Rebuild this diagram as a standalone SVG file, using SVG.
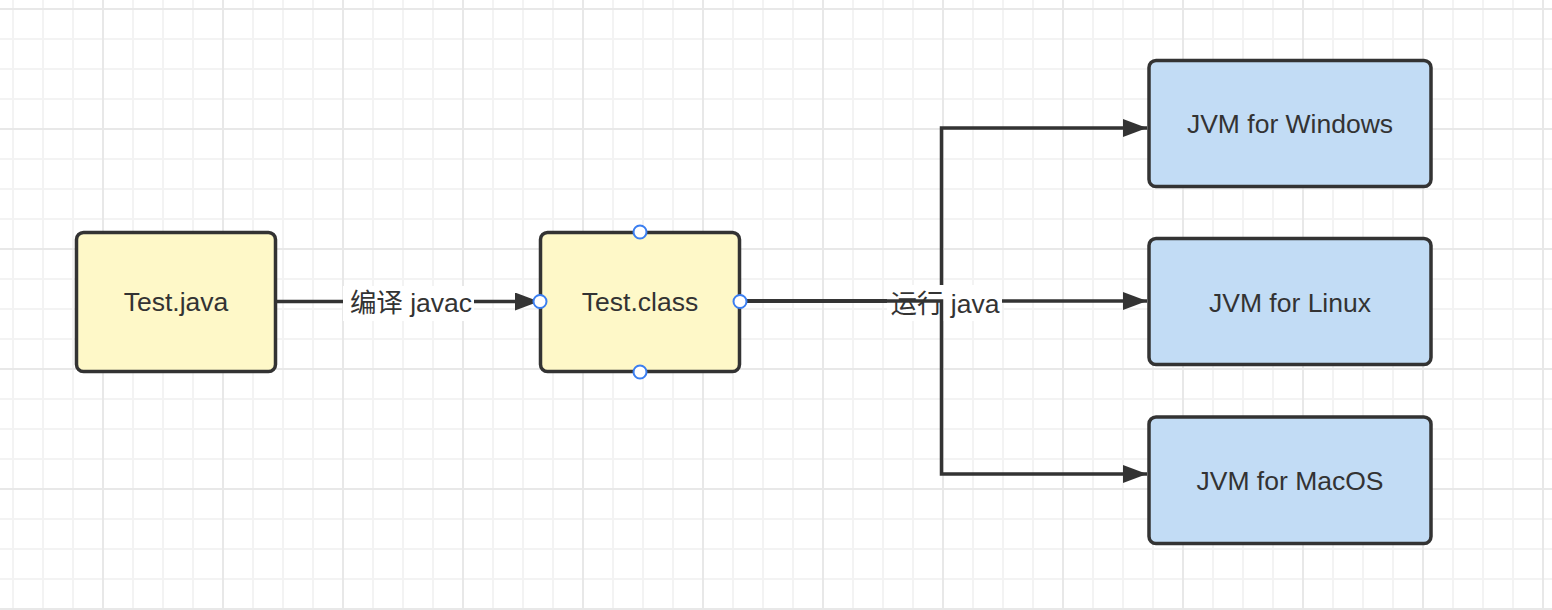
<svg xmlns="http://www.w3.org/2000/svg" width="1552" height="610" viewBox="0 0 1552 610">
<style>
.node rect{stroke:#333333;stroke-width:3.5}
.yellow rect{fill:#fef8c8}
.blue rect{fill:#c2dcf5}
text{font-family:"Liberation Sans","Noto Sans CJK SC",sans-serif;font-size:26.5px;fill:#333333;text-anchor:middle}
.edge{fill:none;stroke:#333333;stroke-width:3.5;marker-end:url(#arrow)}
.lbl-bg{fill:#ffffff}
.handle{fill:#ffffff;stroke:#3a7ef0;stroke-width:2}
</style>
<defs>
<pattern id="minor" patternUnits="userSpaceOnUse" x="-2" y="-6" width="30" height="30">
<path d="M15 0V30M0 15H30" stroke="#f3f3f3" stroke-width="2" fill="none"/>
</pattern>
<pattern id="major" patternUnits="userSpaceOnUse" x="43" y="69" width="120" height="120">
<path d="M60 0V120M0 60H120" stroke="#e8e8e8" stroke-width="2" fill="none"/>
</pattern>
<marker id="arrow" markerUnits="userSpaceOnUse" markerWidth="24" markerHeight="18" refX="24" refY="9" orient="auto">
<path d="M0 0L24 9L0 18z" fill="#333333"/>
</marker>
</defs>
<rect width="1552" height="610" fill="#ffffff"/>
<rect width="1552" height="610" fill="url(#minor)"/>
<rect width="1552" height="610" fill="url(#major)"/>

<g id="connectors">
<path class="edge" d="M276.5 301.5H539"/>
<rect class="lbl-bg" x="343" y="286" width="131" height="35"/>
<text x="411" y="312">编译 javac</text>
<path class="edge" d="M740 301H941.5V128H1147"/>
<path class="edge" d="M740 301H1147"/>
<rect class="lbl-bg" x="887" y="285" width="115" height="36"/>
<text x="945" y="313">运行 java</text>
<path class="edge" d="M740 301H941.5V474H1147"/>
</g>

<g id="test-java" class="node yellow">
<rect x="76.5" y="232.5" width="199" height="139" rx="7"/>
<text x="176" y="311">Test.java</text>
</g>
<g id="test-class" class="node yellow">
<rect x="540.5" y="232.5" width="199" height="139" rx="7"/>
<text x="640" y="311">Test.class</text>
<circle class="handle" cx="640" cy="232" r="6.5"/>
<circle class="handle" cx="540" cy="301.5" r="6.5"/>
<circle class="handle" cx="740" cy="301.5" r="6.5"/>
<circle class="handle" cx="640" cy="372" r="6.5"/>
</g>
<g id="jvm-windows" class="node blue">
<rect x="1149" y="60.5" width="282" height="126" rx="7"/>
<text x="1290" y="133">JVM for Windows</text>
</g>
<g id="jvm-linux" class="node blue">
<rect x="1149" y="238.5" width="282" height="126" rx="7"/>
<text x="1290" y="312">JVM for Linux</text>
</g>
<g id="jvm-macos" class="node blue">
<rect x="1149" y="417" width="282" height="126.5" rx="7"/>
<text x="1290" y="490">JVM for MacOS</text>
</g>
</svg>
